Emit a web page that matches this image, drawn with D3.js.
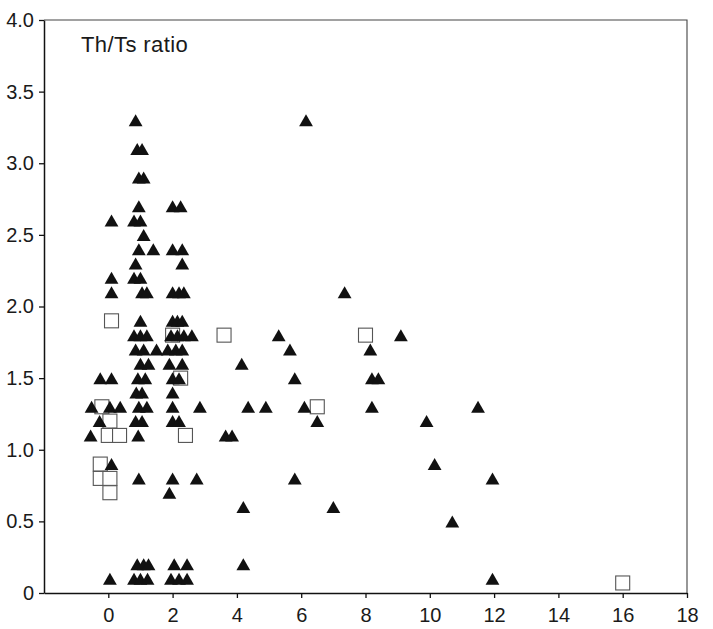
<!DOCTYPE html>
<html>
<head>
<meta charset="utf-8">
<script src="https://cdn.jsdelivr.net/npm/d3@7"></script>
<style>
  html, body { margin: 0; padding: 0; background: #fff; }
  svg { display: block; }
  text { font-family: "Liberation Sans", Arial, Helvetica, sans-serif; fill: #1a1a1a; }
</style>
</head>
<body>
<script>
// Th/Ts ratio observations: filled triangles and open squares, [x, ratio]
const triangles = [
  [0.85, 3.3], [6.15, 3.3],
  [0.9, 3.1], [1.05, 3.1],
  [0.95, 2.9], [1.1, 2.9],
  [0.95, 2.7], [2.0, 2.7], [2.25, 2.7],
  [0.1, 2.6], [0.8, 2.6], [1.0, 2.6],
  [1.1, 2.5],
  [0.95, 2.4], [1.4, 2.4], [2.0, 2.4], [2.3, 2.4],
  [0.85, 2.3], [2.3, 2.3],
  [0.1, 2.2], [0.8, 2.2], [1.0, 2.2],
  [0.1, 2.1], [1.05, 2.1], [1.2, 2.1], [2.0, 2.1], [2.2, 2.1], [2.35, 2.1], [7.35, 2.1],
  [1.0, 1.9], [2.0, 1.9], [2.15, 1.9], [2.3, 1.9],
  [0.8, 1.8], [1.0, 1.8], [1.2, 1.8], [1.95, 1.8], [2.15, 1.8], [2.35, 1.8], [2.6, 1.8], [5.3, 1.8], [9.1, 1.8],
  [0.85, 1.7], [1.1, 1.7], [1.5, 1.7], [1.85, 1.7], [2.1, 1.7], [2.3, 1.7], [5.65, 1.7], [8.15, 1.7],
  [1.0, 1.6], [1.25, 1.6], [1.9, 1.6], [2.3, 1.6], [4.15, 1.6],
  [-0.25, 1.5], [0.1, 1.5], [0.92, 1.5], [1.15, 1.5], [2.0, 1.5], [2.2, 1.5], [5.8, 1.5], [8.2, 1.5], [8.4, 1.5],
  [0.87, 1.4], [1.05, 1.4], [2.0, 1.4],
  [-0.52, 1.3], [0.05, 1.3], [0.37, 1.3], [0.95, 1.3], [1.2, 1.3], [2.0, 1.3], [2.85, 1.3],
  [4.35, 1.3], [4.9, 1.3], [6.1, 1.3], [8.2, 1.3], [11.5, 1.3],
  [-0.27, 1.2], [0.85, 1.2], [1.05, 1.2], [2.0, 1.2], [2.2, 1.2], [6.5, 1.2], [9.9, 1.2],
  [-0.55, 1.1], [0.93, 1.1], [3.65, 1.1], [3.85, 1.1],
  [0.1, 0.9], [10.15, 0.9],
  [0.95, 0.8], [2.0, 0.8], [2.75, 0.8], [5.8, 0.8], [11.95, 0.8],
  [1.9, 0.7],
  [4.2, 0.6], [7.0, 0.6],
  [10.7, 0.5],
  [0.9, 0.2], [1.1, 0.2], [1.25, 0.2], [2.05, 0.2], [2.45, 0.2], [4.2, 0.2],
  [0.05, 0.1], [0.8, 0.1], [1.0, 0.1], [1.22, 0.1], [1.95, 0.1], [2.2, 0.1], [2.45, 0.1], [11.95, 0.1]
];

const squares = [
  [0.1, 1.9], [2.0, 1.8], [3.6, 1.8], [8.0, 1.8], [2.25, 1.5],
  [-0.2, 1.3], [6.5, 1.3], [0.05, 1.2], [0.0, 1.1], [0.35, 1.1], [2.4, 1.1],
  [-0.25, 0.9], [-0.25, 0.8], [0.05, 0.8], [0.05, 0.7], [16.0, 0.07]
];

const xTicks = [0, 2, 4, 6, 8, 10, 12, 14, 16, 18];
const yTicks = [0, 0.5, 1.0, 1.5, 2.0, 2.5, 3.0, 3.5, 4.0];
const yTickLabels = ["0", "0.5", "1.0", "1.5", "2.0", "2.5", "3.0", "3.5", "4.0"];
const titleText = "Th/Ts ratio";

const W = 713, H = 629;
const plotLeft = 44, plotRight = 687, plotTop = 20, plotBottom = 593;

const svg = d3.select("body").append("svg").attr("width", W).attr("height", H);

const x = d3.scaleLinear().domain([-2, 18]).range([plotLeft, plotRight]);
const y = d3.scaleLinear().domain([0, 4]).range([plotBottom, plotTop]);

// frame: top and right edges
svg.append("path")
  .attr("d", `M${plotLeft},${plotTop}H${plotRight}V${plotBottom}`)
  .attr("fill", "none").attr("stroke", "#444").attr("stroke-width", 1.1);

// axes
const xAxis = d3.axisBottom(x).tickValues(xTicks).tickSize(5).tickSizeOuter(0).tickPadding(10);
const gx = svg.append("g").attr("transform", `translate(0,${plotBottom})`).call(xAxis);
gx.selectAll("text").style("font-size", "20px").attr("fill", "#1a1a1a");

const yAxis = d3.axisLeft(y).tickValues(yTicks).tickSize(5).tickSizeOuter(0).tickPadding(5)
  .tickFormat((d, i) => yTickLabels[i]);
const gy = svg.append("g").attr("transform", `translate(${plotLeft},0)`).call(yAxis);
gy.selectAll("text").style("font-size", "20px").attr("fill", "#1a1a1a");

[gx, gy].forEach(g => {
  g.select(".domain").attr("stroke", "#111").attr("stroke-width", 1.5);
  g.selectAll(".tick line").attr("stroke", "#111").attr("stroke-width", 1.3);
});

// open squares (drawn below the triangles)
const sq = 14;
svg.append("g").selectAll("rect").data(squares).join("rect")
  .attr("x", d => x(d[0]) - sq / 2)
  .attr("y", d => y(d[1]) - sq / 2)
  .attr("width", sq).attr("height", sq)
  .attr("fill", "#fff").attr("stroke", "#555").attr("stroke-width", 1.1);

// filled triangles centred on their bounding box
const tri = {
  draw(ctx) {
    const hw = 6.9, hh = 6;
    ctx.moveTo(0, -hh);
    ctx.lineTo(hw, hh);
    ctx.lineTo(-hw, hh);
    ctx.closePath();
  }
};
svg.append("g").selectAll("path").data(triangles).join("path")
  .attr("transform", d => `translate(${x(d[0])},${y(d[1])})`)
  .attr("d", d3.symbol(tri)())
  .attr("fill", "#111");

// panel label
svg.append("text")
  .attr("x", 81).attr("y", 52)
  .style("font-size", "22px")
  .style("letter-spacing", "0.4px")
  .text(titleText);
</script>
</body>
</html>
